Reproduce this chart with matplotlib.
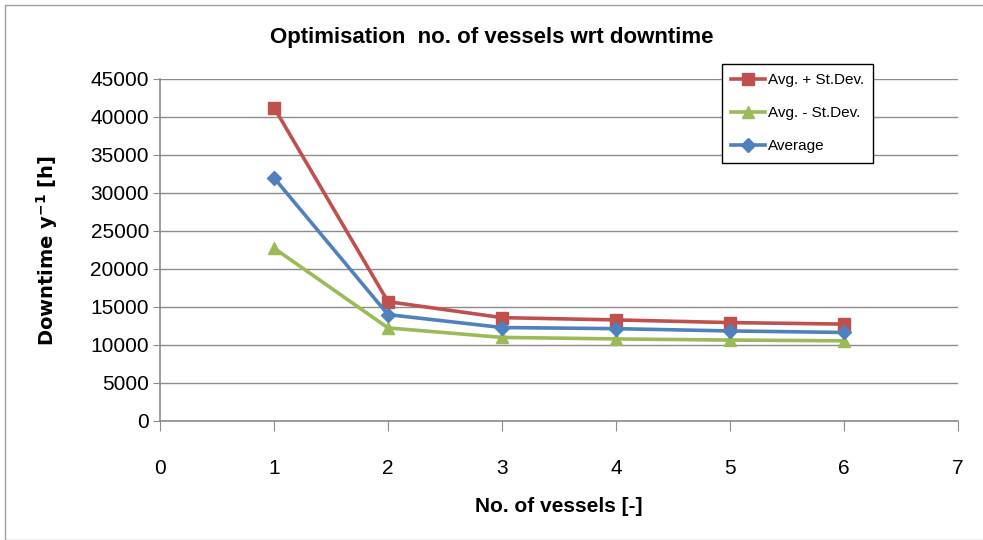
import matplotlib.pyplot as plt
from matplotlib.patches import Rectangle

plt.rcParams['font.family'] = ['Liberation Sans Narrow', 'Liberation Sans', 'DejaVu Sans']

# Data
vessels = [1, 2, 3, 4, 5, 6]
avg_plus_std = [41250, 15700, 13600, 13300, 12950, 12750]
avg_minus_std = [22750, 12250, 11000, 10800, 10650, 10550]
average = [32000, 14000, 12300, 12150, 11850, 11650]

fig = plt.figure(figsize=(9.83, 5.4), dpi=100)
ax = fig.add_axes([160/983, 1-421/540, 798/983, 342/540])

# chart border
fig.patches.append(Rectangle((5/983, 0), 1, 1-5/540, transform=fig.transFigure,
                             fill=False, edgecolor='#a0a0a0', linewidth=1))

ax.plot(vessels, avg_plus_std, '-s', color='#C0504D', lw=2.6, ms=9, label='Avg. + St.Dev.')
ax.plot(vessels, avg_minus_std, '-^', color='#9BBB59', lw=2.6, ms=9, label='Avg. - St.Dev.')
ax.plot(vessels, average, '-D', color='#4F81BD', lw=2.6, ms=7, label='Average')

ax.set_xlim(0, 7)
ax.set_ylim(0, 45000)
ax.set_xticks(range(0, 8))
ax.set_yticks(range(0, 45001, 5000))
ax.grid(axis='y', color='#8c8c8c', linewidth=1)
ax.set_axisbelow(True)
for s in ['top', 'right']:
    ax.spines[s].set_visible(False)
for s in ['left', 'bottom']:
    ax.spines[s].set_color('#8c8c8c')
    ax.spines[s].set_linewidth(1.2)
ax.tick_params(axis='x', direction='out', length=7, color='#8c8c8c', pad=20, labelsize=15)
ax.tick_params(axis='y', direction='out', length=5, color='#8c8c8c', pad=3, labelsize=15)

ax.set_xlabel('No. of vessels [-]', fontsize=15, fontweight='bold', labelpad=14)
ax.set_ylabel('Downtime y$^{\\mathbf{-1}}$ [h]', fontsize=14, fontweight='bold',
              family='DejaVu Sans', labelpad=22)
fig.text(0.5, 1-38/540, 'Optimisation  no. of vessels wrt downtime', ha='center', va='center',
         fontsize=16, fontweight='bold')

leg = ax.legend(loc='upper left', bbox_to_anchor=(722/983, 1-64/540), bbox_transform=fig.transFigure,
                fancybox=False, edgecolor='black', framealpha=1, fontsize=11, borderaxespad=0,
                handlelength=2.2, handletextpad=0.2, labelspacing=1.25, borderpad=0.6)
leg.get_frame().set_linewidth(1)

fig.savefig('out.png', dpi=100)
